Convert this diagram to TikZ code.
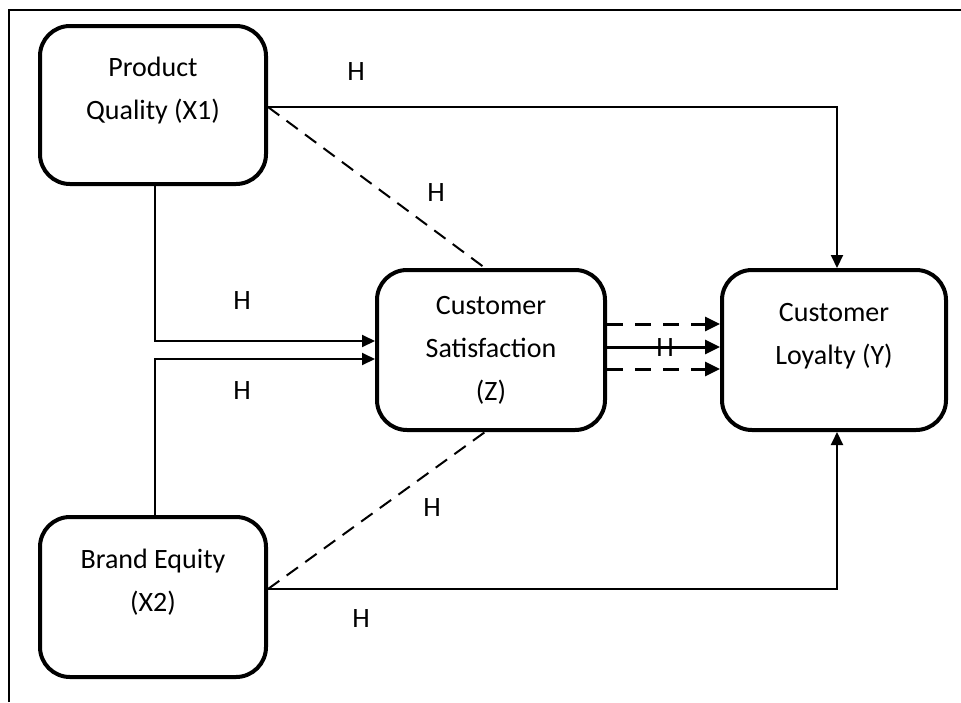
\documentclass[tikz,border=0pt]{standalone}
\usepackage{fontspec}
\setmainfont{Carlito}
\usetikzlibrary{arrows.meta,calc}
\begin{document}
\begin{tikzpicture}[x=1pt,y=-1pt,
  box/.style={draw, line width=4pt, rounded corners=30pt, inner sep=0pt},
  txt/.style={font=\fontsize{28}{43}\selectfont, align=center, inner sep=0pt},
  conn/.style={line width=2pt, -{Triangle[length=13pt,width=12pt]}},
  dashconn/.style={line width=2pt, dash pattern=on 14pt off 9pt},
  thick3/.style={line width=3pt, -{Triangle[length=15pt,width=14pt]}},
  thick3d/.style={thick3, dash pattern=on 16pt off 12pt}]
\useasboundingbox (0,0) rectangle (961,702);
% frame (top and left edges only)
\coordinate (fbl) at (9,702);
\coordinate (ftl) at (9,10);
\coordinate (ftr) at (961,10);
\draw[line width=2pt] (fbl) -- (ftl) -- (ftr);
% boxes
\node[box, minimum width=226pt, minimum height=158pt] (x1) at (153,105) {};
\node[box, minimum width=226pt, minimum height=160pt] (x2) at (153,597) {};
\node[box, minimum width=228pt, minimum height=160pt] (z) at (491,350) {};
\node[box, minimum width=224pt, minimum height=160pt] (y) at (834,350) {};
% box texts
\node[txt] (tx1) at (153,91) {Product\\Quality (X1)};
\node[txt] (tx2) at (153,582) {Brand Equity\\(X2)};
\node[txt] (tz) at (491,350) {Customer\\Satisfaction\\(Z)};
\node[txt] (ty) at (834,336) {Customer\\Loyalty (Y)};
% helper coordinates
\coordinate (x1r) at ($(x1.east)+(0,2)$);
\coordinate (x2r) at ($(x2.east)+(0,-8)$);
\coordinate (yn) at ($(y.north)+(3,0)$);
\coordinate (ys) at ($(y.south)+(3,0)$);
\coordinate (zn) at ($(z.north)+(-6,0)$);
\coordinate (zs) at ($(z.south)+(-6,0)$);
\coordinate (zw1) at ($(z.west)+(0,-9)$);
\coordinate (zw2) at ($(z.west)+(0,9)$);
\coordinate (x1b) at ($(x1.south)+(2,0)$);
\coordinate (x2t) at ($(x2.north)+(2,0)$);
% connectors
\draw[conn] (x1r) -| (yn);
\draw[dashconn] (x1r) -- (zn);
\draw[conn] (x1b) |- (zw1);
\draw[conn] (x2t) |- (zw2);
\draw[dashconn] (x2r) -- (zs);
\draw[conn] (x2r) -| (ys);
\draw[thick3d] ($(z.east)+(0,-26)$) -- ($(y.west)+(0,-26)$);
\draw[thick3] ($(z.east)+(0,-3)$) -- ($(y.west)+(0,-3)$);
\draw[thick3d] ($(z.east)+(0,19)$) -- ($(y.west)+(0,19)$);
% H labels
\node[txt] (h1) at (356,72) {H};
\node[txt] (h2) at (436,193) {H};
\node[txt] (h3) at (242,301) {H};
\node[txt] (h4) at (242,391) {H};
\node[txt] (h5) at (432,508) {H};
\node[txt] (h6) at (361,619) {H};
\node[txt] (h7) at (665,348) {H};
\end{tikzpicture}
\end{document}
